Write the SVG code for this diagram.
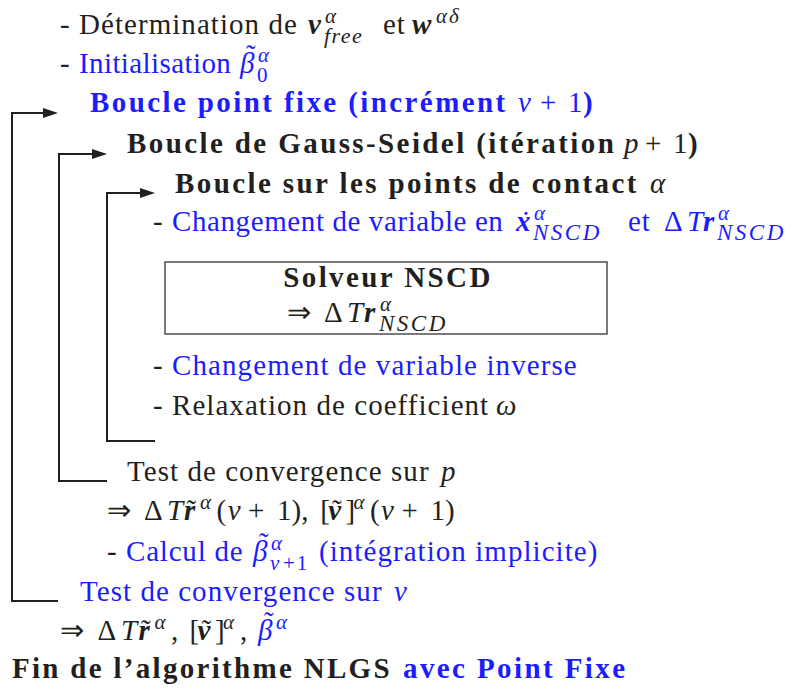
<svg xmlns="http://www.w3.org/2000/svg" width="798" height="691" viewBox="0 0 798 691">
<rect width="798" height="691" fill="#ffffff"/>
<g id="connectors">
<path d="M58,601 H12 V113 H45" fill="none" stroke="#231f20" stroke-width="2"/>
<polygon points="43,108 58,113 43,118" fill="#231f20"/>
<path d="M107,481 H59 V154 H94" fill="none" stroke="#231f20" stroke-width="2"/>
<polygon points="92,149 107,154 92,159" fill="#231f20"/>
<path d="M155,441 H107 V193 H142" fill="none" stroke="#231f20" stroke-width="2"/>
<polygon points="140,188 155,193 140,198" fill="#231f20"/>
</g>
<rect x="165" y="262" width="442" height="72" fill="none" stroke="#333333" stroke-width="1.3"/>
<text x="60" y="34" font-family="Liberation Serif" font-size="29" fill="#231f20" letter-spacing="1.05">- Détermination de</text>
<text x="308" y="34" font-family="Liberation Serif" font-size="29" fill="#231f20" font-weight="bold" font-style="italic">v</text>
<text x="325" y="23" font-family="Liberation Serif" font-size="21" fill="#231f20" font-style="italic">α</text>
<text x="324" y="43" font-family="Liberation Serif" font-size="22" fill="#231f20" font-style="italic" letter-spacing="1.5">free</text>
<text x="383" y="34" font-family="Liberation Serif" font-size="29" fill="#231f20" letter-spacing="1">et</text>
<text x="412" y="34" font-family="Liberation Serif" font-size="29" fill="#231f20" font-weight="bold" font-style="italic">w</text>
<text x="436" y="23" font-family="Liberation Serif" font-size="21" fill="#231f20" font-style="italic" letter-spacing="2">αδ</text>
<text x="60" y="73" font-family="Liberation Serif" font-size="29" fill="#231f20">-</text>
<text x="79" y="73" font-family="Liberation Serif" font-size="29" fill="#1c1cff" letter-spacing="0.4">Initialisation</text>
<text x="240" y="73" font-family="Liberation Serif" font-size="29" fill="#1c1cff" font-style="italic">β</text>
<text x="246" y="65" font-family="Liberation Serif" font-size="29" fill="#1c1cff">˜</text>
<text x="258" y="62" font-family="Liberation Serif" font-size="21" fill="#1c1cff" font-style="italic">α</text>
<text x="257" y="82" font-family="Liberation Serif" font-size="21" fill="#1c1cff">0</text>
<text x="90" y="112" font-family="Liberation Serif" font-size="29" fill="#1c1cff" font-weight="bold" letter-spacing="2.4">Boucle point fixe (incrément</text>
<text x="518" y="112" font-family="Liberation Serif" font-size="29" fill="#1c1cff" font-style="italic">ν</text>
<text x="540" y="112" font-family="Liberation Serif" font-size="29" fill="#1c1cff">+</text>
<text x="568" y="112" font-family="Liberation Serif" font-size="29" fill="#1c1cff">1</text>
<text x="583" y="112" font-family="Liberation Serif" font-size="29" fill="#1c1cff" font-weight="bold">)</text>
<text x="127" y="153" font-family="Liberation Serif" font-size="29" fill="#231f20" font-weight="bold" letter-spacing="2.4">Boucle de Gauss-Seidel (itération</text>
<text x="624" y="153" font-family="Liberation Serif" font-size="29" fill="#231f20" font-style="italic">p</text>
<text x="645" y="153" font-family="Liberation Serif" font-size="29" fill="#231f20">+</text>
<text x="673" y="153" font-family="Liberation Serif" font-size="29" fill="#231f20">1</text>
<text x="688" y="153" font-family="Liberation Serif" font-size="29" fill="#231f20" font-weight="bold">)</text>
<text x="175" y="193" font-family="Liberation Serif" font-size="29" fill="#231f20" font-weight="bold" letter-spacing="2.4">Boucle sur les points de contact</text>
<text x="650" y="193" font-family="Liberation Serif" font-size="29" fill="#231f20" font-style="italic">α</text>
<text x="153" y="231" font-family="Liberation Serif" font-size="29" fill="#231f20">-</text>
<text x="172" y="231" font-family="Liberation Serif" font-size="29" fill="#1c1cff" letter-spacing="0.6">Changement de variable en</text>
<text x="516" y="231" font-family="Liberation Serif" font-size="29" fill="#1c1cff" font-weight="bold" font-style="italic">x</text>
<text x="521" y="232" font-family="Liberation Serif" font-size="29" fill="#1c1cff">˙</text>
<text x="534" y="220" font-family="Liberation Serif" font-size="21" fill="#1c1cff" font-style="italic">α</text>
<text x="533" y="240" font-family="Liberation Serif" font-size="23" fill="#1c1cff" font-style="italic" letter-spacing="2.5">NSCD</text>
<text x="628" y="231" font-family="Liberation Serif" font-size="29" fill="#1c1cff" letter-spacing="1">et</text>
<text x="664" y="231" font-family="Liberation Serif" font-size="29" fill="#1c1cff">Δ</text>
<text x="687" y="231" font-family="Liberation Serif" font-size="29" fill="#1c1cff" font-style="italic">T</text>
<text x="703" y="231" font-family="Liberation Serif" font-size="29" fill="#1c1cff" font-weight="bold" font-style="italic">r</text>
<text x="718" y="220" font-family="Liberation Serif" font-size="21" fill="#1c1cff" font-style="italic">α</text>
<text x="717" y="240" font-family="Liberation Serif" font-size="23" fill="#1c1cff" font-style="italic" letter-spacing="2.5">NSCD</text>
<text x="388" y="287" font-family="Liberation Serif" font-size="29" fill="#231f20" font-weight="bold" text-anchor="middle" letter-spacing="2.4">Solveur NSCD</text>
<text x="287" y="322" font-family="Liberation Serif" font-size="29" fill="#231f20">⇒</text>
<text x="324" y="322" font-family="Liberation Serif" font-size="29" fill="#231f20">Δ</text>
<text x="347" y="322" font-family="Liberation Serif" font-size="29" fill="#231f20" font-style="italic">T</text>
<text x="364" y="322" font-family="Liberation Serif" font-size="29" fill="#231f20" font-weight="bold" font-style="italic">r</text>
<text x="380" y="311" font-family="Liberation Serif" font-size="21" fill="#231f20" font-style="italic">α</text>
<text x="379" y="331" font-family="Liberation Serif" font-size="23" fill="#231f20" font-style="italic" letter-spacing="2.5">NSCD</text>
<text x="153" y="375" font-family="Liberation Serif" font-size="29" fill="#231f20">-</text>
<text x="172" y="375" font-family="Liberation Serif" font-size="29" fill="#1c1cff" letter-spacing="1.1">Changement de variable inverse</text>
<text x="153" y="415" font-family="Liberation Serif" font-size="29" fill="#231f20" letter-spacing="1.05">- Relaxation de coefficient</text>
<text x="496" y="415" font-family="Liberation Serif" font-size="29" fill="#231f20" font-style="italic">ω</text>
<text x="127" y="481" font-family="Liberation Serif" font-size="29" fill="#231f20" letter-spacing="1.05">Test de convergence sur</text>
<text x="441" y="481" font-family="Liberation Serif" font-size="29" fill="#231f20" font-style="italic">p</text>
<text x="107" y="520" font-family="Liberation Serif" font-size="29" fill="#231f20">⇒</text>
<text x="144" y="520" font-family="Liberation Serif" font-size="29" fill="#231f20">Δ</text>
<text x="167" y="520" font-family="Liberation Serif" font-size="29" fill="#231f20" font-style="italic">T</text>
<text x="184" y="520" font-family="Liberation Serif" font-size="29" fill="#231f20" font-weight="bold" font-style="italic">r</text>
<text x="186.5" y="520" font-family="Liberation Serif" font-size="29" fill="#231f20">˜</text>
<text x="200" y="509" font-family="Liberation Serif" font-size="21" fill="#231f20" font-style="italic">α</text>
<text x="216.5" y="520" font-family="Liberation Serif" font-size="29" fill="#231f20">(</text>
<text x="227.7" y="520" font-family="Liberation Serif" font-size="29" fill="#231f20" font-style="italic">ν</text>
<text x="248" y="520" font-family="Liberation Serif" font-size="29" fill="#231f20">+</text>
<text x="277" y="520" font-family="Liberation Serif" font-size="29" fill="#231f20">1</text>
<text x="291.5" y="520" font-family="Liberation Serif" font-size="29" fill="#231f20">),</text>
<text x="320.3" y="520" font-family="Liberation Serif" font-size="29" fill="#231f20">[</text>
<text x="328.3" y="520" font-family="Liberation Serif" font-size="29" fill="#231f20" font-weight="bold" font-style="italic">v</text>
<text x="332" y="520" font-family="Liberation Serif" font-size="29" fill="#231f20">˜</text>
<text x="345.6" y="520" font-family="Liberation Serif" font-size="29" fill="#231f20">]</text>
<text x="353.6" y="509" font-family="Liberation Serif" font-size="21" fill="#231f20" font-style="italic">α</text>
<text x="369.9" y="520" font-family="Liberation Serif" font-size="29" fill="#231f20">(</text>
<text x="381.1" y="520" font-family="Liberation Serif" font-size="29" fill="#231f20" font-style="italic">ν</text>
<text x="401.5" y="520" font-family="Liberation Serif" font-size="29" fill="#231f20">+</text>
<text x="430.4" y="520" font-family="Liberation Serif" font-size="29" fill="#231f20">1</text>
<text x="444.9" y="520" font-family="Liberation Serif" font-size="29" fill="#231f20">)</text>
<text x="107" y="561" font-family="Liberation Serif" font-size="29" fill="#231f20">-</text>
<text x="126" y="561" font-family="Liberation Serif" font-size="29" fill="#1c1cff" letter-spacing="0.8">Calcul de</text>
<text x="253" y="561" font-family="Liberation Serif" font-size="29" fill="#1c1cff" font-style="italic">β</text>
<text x="259" y="553" font-family="Liberation Serif" font-size="29" fill="#1c1cff">˜</text>
<text x="271" y="550" font-family="Liberation Serif" font-size="21" fill="#1c1cff" font-style="italic">α</text>
<text x="270" y="570" font-family="Liberation Serif" font-size="21" fill="#1c1cff" font-style="italic">ν</text>
<text x="283" y="570" font-family="Liberation Serif" font-size="21" fill="#1c1cff" letter-spacing="2">+1</text>
<text x="319" y="561" font-family="Liberation Serif" font-size="29" fill="#1c1cff" letter-spacing="1.05">(intégration implicite)</text>
<text x="80" y="601" font-family="Liberation Serif" font-size="29" fill="#1c1cff" letter-spacing="1.05">Test de convergence sur</text>
<text x="394" y="601" font-family="Liberation Serif" font-size="29" fill="#1c1cff" font-style="italic">ν</text>
<text x="60" y="640" font-family="Liberation Serif" font-size="29" fill="#231f20">⇒</text>
<text x="97.6" y="640" font-family="Liberation Serif" font-size="29" fill="#231f20">Δ</text>
<text x="121" y="640" font-family="Liberation Serif" font-size="29" fill="#231f20" font-style="italic">T</text>
<text x="138.5" y="640" font-family="Liberation Serif" font-size="29" fill="#231f20" font-weight="bold" font-style="italic">r</text>
<text x="141" y="640" font-family="Liberation Serif" font-size="29" fill="#231f20">˜</text>
<text x="154.5" y="629" font-family="Liberation Serif" font-size="21" fill="#231f20" font-style="italic">α</text>
<text x="171" y="640" font-family="Liberation Serif" font-size="29" fill="#231f20">,</text>
<text x="189.5" y="640" font-family="Liberation Serif" font-size="29" fill="#231f20">[</text>
<text x="197.5" y="640" font-family="Liberation Serif" font-size="29" fill="#231f20" font-weight="bold" font-style="italic">v</text>
<text x="201.5" y="640" font-family="Liberation Serif" font-size="29" fill="#231f20">˜</text>
<text x="215" y="640" font-family="Liberation Serif" font-size="29" fill="#231f20">]</text>
<text x="223" y="629" font-family="Liberation Serif" font-size="21" fill="#231f20" font-style="italic">α</text>
<text x="240" y="640" font-family="Liberation Serif" font-size="29" fill="#231f20">,</text>
<text x="258" y="640" font-family="Liberation Serif" font-size="29" fill="#1c1cff" font-style="italic">β</text>
<text x="264" y="632" font-family="Liberation Serif" font-size="29" fill="#1c1cff">˜</text>
<text x="276" y="629" font-family="Liberation Serif" font-size="21" fill="#1c1cff" font-style="italic">α</text>
<text x="12" y="678" font-family="Liberation Serif" font-size="29" fill="#231f20" font-weight="bold" letter-spacing="2.3">Fin de l’algorithme NLGS</text>
<text x="403" y="678" font-family="Liberation Serif" font-size="29" fill="#1c1cff" font-weight="bold" letter-spacing="2.4">avec Point Fixe</text>
</svg>
